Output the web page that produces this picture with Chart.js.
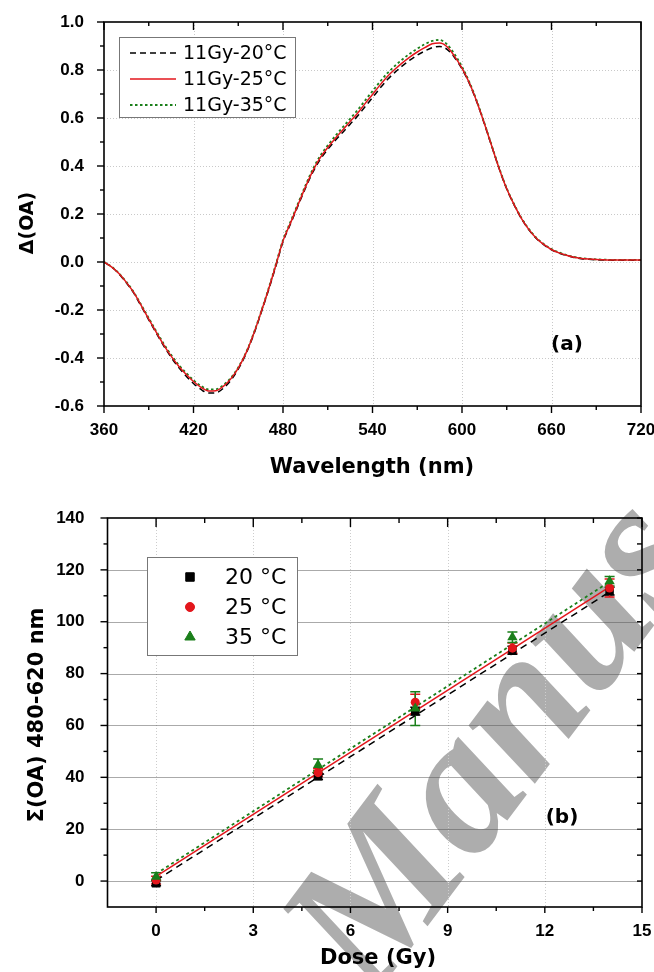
<!DOCTYPE html>
<html>
<head>
<meta charset="utf-8">
<script src="https://cdn.jsdelivr.net/npm/chart.js@4.4.1/dist/chart.umd.min.js"></script>
<style>
  html, body { margin:0; padding:0; background:#ffffff; }
  body { width:654px; height:972px; position:relative; overflow:hidden; }
  #wm { position:absolute; left:0; top:0; }
  #c1 { position:absolute; left:0; top:0; }
  #c2 { position:absolute; left:0; top:490px; }
</style>
</head>
<body>
<svg id="wm" width="654" height="972" xmlns="http://www.w3.org/2000/svg">
  <text x="372" y="1000" transform="rotate(-53 372 1000)" font-family="'Liberation Serif', 'DejaVu Serif', serif" font-style="italic" font-weight="bold" font-size="192" fill="#adadad">Manus</text>
</svg>
<canvas id="c1" width="654" height="490"></canvas>
<canvas id="c2" width="654" height="482"></canvas>
<script>
// ================= Panel (a) data =================
const wavelengths = [360,365,370,375,380,385,390,395,400,405,
  410,415,420,425,430,435,440,445,450,455,
  460,465,470,475,480,485,490,495,500,505,
  510,515,520,525,530,535,540,545,550,555,
  560,565,570,575,580,585,590,595,600,605,
  610,615,620,625,630,635,640,645,650,655,
  660,665,670,675,680,685,690,695,700,705,
  710,715,720];
const oa20C = [0.000,-0.020,-0.049,-0.087,-0.130,-0.185,-0.241,-0.296,-0.349,-0.397,
  -0.439,-0.475,-0.506,-0.531,-0.546,-0.545,-0.526,-0.493,-0.446,-0.385,
  -0.308,-0.218,-0.123,-0.022,0.084,0.158,0.233,0.307,0.374,0.428,
  0.469,0.506,0.540,0.574,0.608,0.647,0.685,0.724,0.760,0.790,
  0.817,0.841,0.862,0.879,0.893,0.898,0.886,0.852,0.805,0.743,
  0.666,0.576,0.481,0.387,0.304,0.237,0.179,0.133,0.097,0.071,
  0.051,0.037,0.027,0.019,0.014,0.011,0.009,0.008,0.007,0.007,
  0.007,0.007,0.007];
const oa25C = [0.000,-0.020,-0.048,-0.085,-0.128,-0.182,-0.238,-0.292,-0.345,-0.392,
  -0.433,-0.468,-0.498,-0.522,-0.537,-0.536,-0.518,-0.487,-0.442,-0.382,
  -0.305,-0.215,-0.120,-0.018,0.088,0.162,0.237,0.312,0.380,0.435,
  0.477,0.515,0.550,0.585,0.620,0.660,0.698,0.737,0.773,0.803,
  0.830,0.854,0.875,0.893,0.909,0.912,0.897,0.857,0.808,0.745,
  0.667,0.577,0.482,0.388,0.305,0.238,0.180,0.134,0.098,0.072,
  0.052,0.038,0.028,0.020,0.015,0.012,0.010,0.009,0.008,0.008,
  0.008,0.008,0.008];
const oa35C = [0.000,-0.019,-0.047,-0.083,-0.126,-0.179,-0.234,-0.288,-0.340,-0.387,
  -0.428,-0.462,-0.492,-0.516,-0.531,-0.530,-0.513,-0.483,-0.439,-0.380,
  -0.303,-0.213,-0.117,-0.014,0.092,0.167,0.243,0.318,0.387,0.443,
  0.486,0.525,0.561,0.597,0.633,0.673,0.712,0.751,0.787,0.817,
  0.844,0.868,0.889,0.907,0.921,0.925,0.907,0.866,0.814,0.749,
  0.670,0.579,0.484,0.390,0.307,0.240,0.182,0.136,0.100,0.074,
  0.054,0.040,0.029,0.021,0.016,0.013,0.011,0.010,0.009,0.009,
  0.009,0.009,0.009];
const labelsA = ['11Gy-20°C', '11Gy-25°C', '11Gy-35°C'];
const xTicksA = [360, 420, 480, 540, 600, 660, 720];
const yTicksA = [-0.6, -0.4, -0.2, 0.0, 0.2, 0.4, 0.6, 0.8, 1.0];

// ================= Panel (b) data =================
const doses  = [0, 5, 8, 11, 14];
const sum20C = [-0.8, 40.4, 65.5, 89.0, 111.8];
const err20C = [1.0, 1.2, 1.5, 1.5, 1.5];
const sum25C = [0.4, 41.8, 69.0, 89.8, 113.0];
const err25C = [1.5, 1.5, 3.0, 2.0, 3.5];
const sum35C = [1.7, 44.8, 66.5, 94.0, 115.6];
const err35C = [1.5, 2.3, 6.5, 2.0, 1.8];
const fitDoses = [0, 14];
const fit20C = [0.3, 111.5];
const fit25C = [1.8, 113.4];
const fit35C = [2.8, 115.4];
const labelsB = ['20 °C', '25 °C', '35 °C'];
const xTicksB = [0, 3, 6, 9, 12, 15];
const yTicksB = [0, 20, 40, 60, 80, 100, 120, 140];

// ================= styling =================
const BLACK = '#000000', RED = '#e3161c', GREEN = '#1a7f1a';
const TICK_FONT = { family: 'Liberation Sans', weight: 'bold', size: 17 };

function mids(arr) { const r = []; for (let i = 0; i < arr.length - 1; i++) r.push((arr[i] + arr[i + 1]) / 2); return r; }
function xy(xs, ys) { return xs.map((v, i) => ({ x: v, y: ys[i] })); }
const P = v => Math.round(v) + 0.5;

const decor = {
  id: 'decor',
  beforeDatasetsDraw(chart, args, o) {
    const { ctx, chartArea: a } = chart; const xs = chart.scales.x, ys = chart.scales.y;
    ctx.save();
    (o.gridX || []).forEach(g => {
      ctx.strokeStyle = g.color; ctx.lineWidth = 1; ctx.setLineDash(g.dash);
      g.values.forEach(v => { const X = P(xs.getPixelForValue(v)); ctx.beginPath(); ctx.moveTo(X, a.top); ctx.lineTo(X, a.bottom); ctx.stroke(); });
    });
    (o.gridY || []).forEach(g => {
      ctx.strokeStyle = g.color; ctx.lineWidth = 1; ctx.setLineDash(g.dash);
      g.values.forEach(v => { const Y = P(ys.getPixelForValue(v)); ctx.beginPath(); ctx.moveTo(a.left, Y); ctx.lineTo(a.right, Y); ctx.stroke(); });
    });
    ctx.setLineDash([]);
    (o.errorBars || []).forEach(e => {
      ctx.strokeStyle = e.color; ctx.lineWidth = 1.5;
      e.x.forEach((xv, i) => {
        const X = xs.getPixelForValue(xv);
        const y1 = ys.getPixelForValue(e.y[i] - e.err[i]);
        const y2 = ys.getPixelForValue(e.y[i] + e.err[i]);
        ctx.beginPath();
        ctx.moveTo(X, y1); ctx.lineTo(X, y2);
        ctx.moveTo(X - e.cap, y1); ctx.lineTo(X + e.cap, y1);
        ctx.moveTo(X - e.cap, y2); ctx.lineTo(X + e.cap, y2);
        ctx.stroke();
      });
    });
    ctx.restore();
  },
  afterDatasetsDraw(chart, args, o) {
    const { ctx, chartArea: a } = chart; const xs = chart.scales.x, ys = chart.scales.y;
    ctx.save();
    ctx.strokeStyle = '#000'; ctx.setLineDash([]);
    ctx.lineWidth = 1.6;
    ctx.strokeRect(a.left, a.top, a.right - a.left, a.bottom - a.top);
    ctx.lineWidth = 1.4;
    const t = o.ticks || {};
    const side = (name, vals, len, out) => {
      vals.forEach(v => {
        ctx.beginPath();
        if (name === 'bottom' || name === 'top') {
          const X = xs.getPixelForValue(v);
          const base = name === 'bottom' ? a.bottom : a.top;
          const dir = (name === 'bottom' ? 1 : -1) * (out ? 1 : -1);
          ctx.moveTo(X, base); ctx.lineTo(X, base + dir * len);
        } else {
          const Y = ys.getPixelForValue(v);
          const base = name === 'left' ? a.left : a.right;
          const dir = (name === 'left' ? -1 : 1) * (out ? 1 : -1);
          ctx.moveTo(base, Y); ctx.lineTo(base + dir * len, Y);
        }
        ctx.stroke();
      });
    };
    Object.keys(t).forEach(k => {
      const s = t[k];
      side(k, s.major, s.majorLen, s.out);
      side(k, s.minor, s.minorLen, s.out);
    });
    ctx.restore();
  },
  afterDraw(chart, args, o) {
    const { ctx } = chart;
    ctx.save();
    ctx.fillStyle = '#000';
    (o.texts || []).forEach(tx => {
      ctx.save();
      ctx.font = tx.font; ctx.textAlign = 'center'; ctx.textBaseline = 'middle';
      ctx.translate(tx.x, tx.y); if (tx.rot) ctx.rotate(tx.rot);
      ctx.fillText(tx.text, 0, 0);
      ctx.restore();
    });
    const L = o.legend;
    if (L) {
      ctx.fillStyle = '#fff'; ctx.fillRect(L.box[0], L.box[1], L.box[2] - L.box[0], L.box[3] - L.box[1]);
      ctx.strokeStyle = '#777'; ctx.lineWidth = 1;
      ctx.strokeRect(P(L.box[0]), P(L.box[1]), Math.round(L.box[2] - L.box[0]), Math.round(L.box[3] - L.box[1]));
      L.items.forEach((it, i) => {
        const y = L.rows[i];
        if (it.line) {
          ctx.strokeStyle = it.color; ctx.lineWidth = it.width; ctx.setLineDash(it.dash);
          ctx.beginPath(); ctx.moveTo(L.lineX[0], y); ctx.lineTo(L.lineX[1], y); ctx.stroke();
          ctx.setLineDash([]);
        } else {
          ctx.fillStyle = it.color; ctx.strokeStyle = it.color;
          Chart.helpers.drawPoint(ctx, { pointStyle: it.style, radius: it.radius, rotation: 0, borderWidth: 1 }, L.markerX, y);
        }
        ctx.fillStyle = '#000'; ctx.font = L.font; ctx.textAlign = 'left'; ctx.textBaseline = 'middle';
        ctx.fillText(it.label, L.textX, y + 1);
      });
    }
    ctx.restore();
  }
};

function fixY(width) {
  return s => { s.width = width; s.paddingTop = 0; s.paddingBottom = 0; };
}
function fixX(height) {
  return s => { s.height = height; s.paddingLeft = 0; s.paddingRight = 0; };
}

// ================= Chart (a) =================
new Chart(document.getElementById('c1'), {
  type: 'line',
  data: {
    datasets: [
      { label: labelsA[2], data: xy(wavelengths, oa35C), borderColor: GREEN, borderWidth: 1.8, borderDash: [2.5, 2.5], pointRadius: 0, cubicInterpolationMode: 'monotone', order: 1 },
      { label: labelsA[0], data: xy(wavelengths, oa20C), borderColor: BLACK, borderWidth: 1.5, borderDash: [6, 4], pointRadius: 0, cubicInterpolationMode: 'monotone', order: 2 },
      { label: labelsA[1], data: xy(wavelengths, oa25C), borderColor: RED, borderWidth: 1.5, pointRadius: 0, cubicInterpolationMode: 'monotone', order: 0 }
    ]
  },
  options: {
    responsive: false, animation: false, events: [],
    layout: { padding: { top: 22, right: 13, left: 0, bottom: 0 } },
    plugins: {
      legend: { display: false }, tooltip: { enabled: false },
      decor: {
        gridX: [{ values: xTicksA.slice(1, -1), color: '#c9c9c9', dash: [1, 2] }],
        gridY: [{ values: yTicksA.slice(1, -1), color: '#c9c9c9', dash: [1, 2] }],
        ticks: {
          bottom: { major: xTicksA, minor: mids(xTicksA), majorLen: 7, minorLen: 4, out: true },
          top: { major: xTicksA, minor: mids(xTicksA), majorLen: 8, minorLen: 4, out: false },
          left: { major: yTicksA, minor: mids(yTicksA), majorLen: 7, minorLen: 4, out: true }
        },
        texts: [
          { text: 'Wavelength (nm)', x: 372, y: 468, font: 'bold 21px "DejaVu Sans"' },
          { text: 'Δ(OA)', x: 28, y: 223, rot: -Math.PI / 2, font: 'bold 19px "DejaVu Sans"' },
          { text: '(a)', x: 567, y: 345, font: 'bold 20px "DejaVu Sans"' }
        ],
        legend: {
          box: [119, 37, 295, 117], rows: [53, 79, 105], lineX: [130, 176], textX: 183,
          font: '19px "DejaVu Sans"',
          items: [
            { label: labelsA[0], line: true, color: BLACK, width: 1.5, dash: [6, 4] },
            { label: labelsA[1], line: true, color: RED, width: 1.6, dash: [] },
            { label: labelsA[2], line: true, color: GREEN, width: 1.8, dash: [2.5, 2.5] }
          ]
        }
      }
    },
    scales: {
      x: {
        type: 'linear', min: 360, max: 720,
        afterBuildTicks: s => { s.ticks = xTicksA.map(v => ({ value: v })); },
        grid: { display: false }, border: { display: false },
        ticks: { font: TICK_FONT, color: '#000', padding: 6, maxRotation: 0, autoSkip: false, callback: v => String(v) },
        afterFit: fixX(84)
      },
      y: {
        type: 'linear', min: -0.6, max: 1.0,
        afterBuildTicks: s => { s.ticks = yTicksA.map(v => ({ value: v })); },
        grid: { display: false }, border: { display: false },
        ticks: { font: TICK_FONT, color: '#000', padding: 12, autoSkip: false, callback: v => Number(v).toFixed(1) },
        afterFit: fixY(104)
      }
    }
  },
  plugins: [decor]
});

// ================= Chart (b) =================
new Chart(document.getElementById('c2'), {
  type: 'scatter',
  data: {
    datasets: [
      { label: labelsB[0], data: xy(doses, sum20C), pointStyle: 'rect', pointRadius: 6, backgroundColor: BLACK, borderColor: BLACK, borderWidth: 0, showLine: false, order: 2 },
      { label: labelsB[1], data: xy(doses, sum25C), pointStyle: 'circle', pointRadius: 4.5, backgroundColor: RED, borderColor: RED, borderWidth: 0, showLine: false, order: 1 },
      { label: labelsB[2], data: xy(doses, sum35C), pointStyle: 'triangle', pointRadius: 6, backgroundColor: GREEN, borderColor: GREEN, borderWidth: 0, showLine: false, order: 0 },
      { label: 'fit ' + labelsB[0], data: xy(fitDoses, fit20C), showLine: true, pointRadius: 0, borderColor: BLACK, borderWidth: 1.5, borderDash: [7, 5], order: 5 },
      { label: 'fit ' + labelsB[2], data: xy(fitDoses, fit35C), showLine: true, pointRadius: 0, borderColor: GREEN, borderWidth: 1.8, borderDash: [3, 3], order: 4 },
      { label: 'fit ' + labelsB[1], data: xy(fitDoses, fit25C), showLine: true, pointRadius: 0, borderColor: RED, borderWidth: 1.5, order: 3 }
    ]
  },
  options: {
    responsive: false, animation: false, events: [],
    layout: { padding: { top: 28, right: 12, left: 0, bottom: 0 } },
    plugins: {
      legend: { display: false }, tooltip: { enabled: false },
      decor: {
        gridX: [{ values: xTicksB.slice(0, -1), color: '#cdcdcd', dash: [1, 2] }],
        gridY: [{ values: yTicksB.slice(0, -1), color: '#555555', dash: [1, 1] }],
        errorBars: [
          { x: doses, y: sum20C, err: err20C, color: BLACK, cap: 5 },
          { x: doses, y: sum25C, err: err25C, color: RED, cap: 5 },
          { x: doses, y: sum35C, err: err35C, color: GREEN, cap: 5 }
        ],
        ticks: {
          bottom: { major: xTicksB, minor: mids(xTicksB), majorLen: 6, minorLen: 4, out: true },
          top: { major: xTicksB, minor: mids(xTicksB), majorLen: 9, minorLen: 5, out: false },
          left: { major: yTicksB, minor: mids(yTicksB), majorLen: 7, minorLen: 4, out: true },
          right: { major: yTicksB, minor: mids(yTicksB), majorLen: 5, minorLen: 5, out: false }
        },
        texts: [
          { text: 'Dose (Gy)', x: 378, y: 469, font: 'bold 21px "DejaVu Sans"' },
          { text: 'Σ(OA) 480-620 nm', x: 38, y: 225, rot: -Math.PI / 2, font: 'bold 21px "DejaVu Sans"' },
          { text: '(b)', x: 562, y: 328, font: 'bold 20px "DejaVu Sans"' }
        ],
        legend: {
          box: [147, 67, 297, 165], rows: [87, 117, 147], markerX: 190, textX: 225,
          font: '22px "DejaVu Sans"',
          items: [
            { label: labelsB[0], color: BLACK, style: 'rect', radius: 6 },
            { label: labelsB[1], color: RED, style: 'circle', radius: 4.5 },
            { label: labelsB[2], color: GREEN, style: 'triangle', radius: 6 }
          ]
        }
      }
    },
    scales: {
      x: {
        type: 'linear', min: -1.5, max: 15,
        afterBuildTicks: s => { s.ticks = xTicksB.map(v => ({ value: v })); },
        grid: { display: false }, border: { display: false },
        ticks: { font: TICK_FONT, color: '#000', padding: 6, maxRotation: 0, autoSkip: false, callback: v => String(v) },
        afterFit: fixX(65)
      },
      y: {
        type: 'linear', min: -10, max: 140,
        afterBuildTicks: s => { s.ticks = yTicksB.map(v => ({ value: v })); },
        grid: { display: false }, border: { display: false },
        ticks: { font: TICK_FONT, color: '#000', padding: 15, autoSkip: false, callback: v => String(v) },
        afterFit: fixY(107.5)
      }
    }
  },
  plugins: [decor]
});
</script>
</body>
</html>
